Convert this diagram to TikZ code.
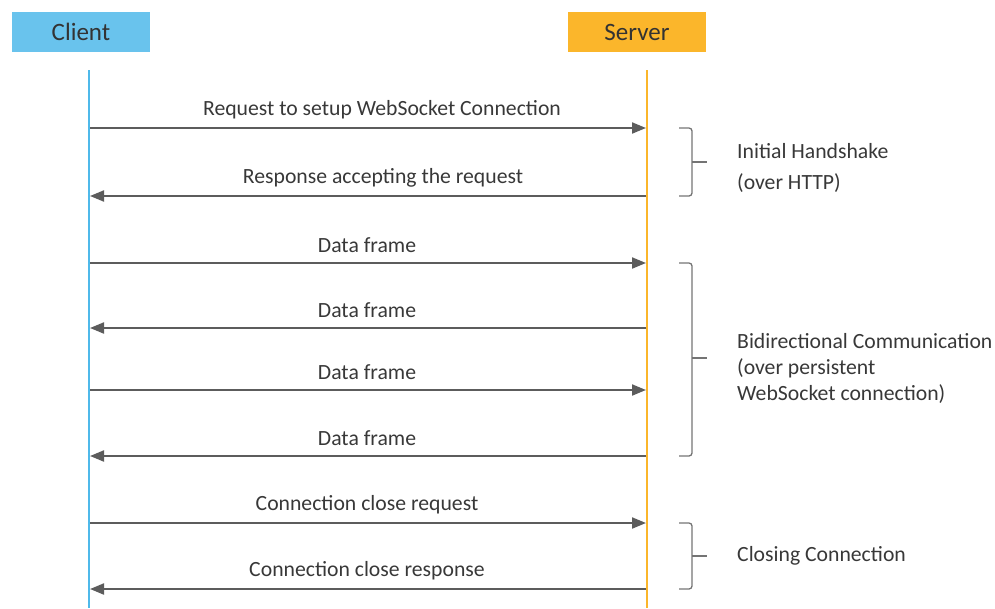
\documentclass[tikz,border=0pt]{standalone}
\usepackage{fontspec}
\setmainfont{Carlito}
\usepackage{tikz}
\usetikzlibrary{arrows.meta}
\definecolor{clientblue}{HTML}{4FB9EA}
\definecolor{serverorange}{HTML}{FBB62B}
\definecolor{msggray}{HTML}{5C5C5C}
\definecolor{txtgray}{HTML}{383838}
\tikzset{
  actor/.style={rectangle, minimum width=138pt, minimum height=40pt, inner sep=0pt,
    font=\fontsize{25}{28}\selectfont, text=black!80},
  lifeline/.style={line width=2.6pt},
  msg/.style={draw=msggray, line width=2pt, -{Triangle[length=14pt,width=11pt]}},
  lbl/.style={font=\fontsize{21.7}{24}\selectfont, text=txtgray, inner sep=0pt},
  phase/.style={font=\fontsize{21.7}{26}\selectfont, text=txtgray, align=left, anchor=west, inner sep=0pt},
  brk/.style={draw=msggray!85, line width=1.3pt, rounded corners=3pt}
}

\begin{document}
\begin{tikzpicture}[x=1pt, y=-1pt]
        \useasboundingbox (0,0) rectangle (995,608);

        \node[actor, fill=clientblue!85] (client) at (81,32) {Client};
        \node[actor, fill=serverorange] (server) at (637,32) {Server};

        \coordinate (ctop) at (89,70);
        \coordinate (cbot) at (89,608);
        \coordinate (stop) at (647,70);
        \coordinate (sbot) at (647,608);
        \draw[lifeline, clientblue] (ctop) -- (cbot);
        \draw[lifeline, serverorange] (stop) -- (sbot);

        \foreach \i/\y/\x/\from/\to/\txt in {
          1/128/382/c/s/Request to setup WebSocket Connection,
          2/196/383/s/c/Response accepting the request,
          3/263/367/c/s/Data frame,
          4/328/367/s/c/Data frame,
          5/390/367/c/s/Data frame,
          6/456/367/s/c/Data frame,
          7/523/367/c/s/Connection close request,
          8/589/367/s/c/Connection close response}
        {
          \coordinate (c\i) at (90,\y);
          \coordinate (s\i) at (646,\y);
          \node[lbl] (m\i) at (\x,\y-18) {\txt};
          \draw[msg] (\from\i) -- (\to\i);
        }

        \foreach \top/\mid/\bot in {128/162/196, 263/358/456, 523/556/589}
        {
          \draw[brk] (679,\top) -- (692,\top) -- (692,\bot) -- (679,\bot);
          \draw[brk] (692,\mid) -- (707,\mid);
        }

        \node[phase, font=\fontsize{21.7}{31}\selectfont] (handshake) at (737,168) {Initial Handshake\\(over HTTP)};
        \node[phase] (bidir) at (737,368) {Bidirectional Communication\\(over persistent\\WebSocket connection)};
        \node[phase] (closing) at (737,556) {Closing Connection};
      \end{tikzpicture}
\end{document}
